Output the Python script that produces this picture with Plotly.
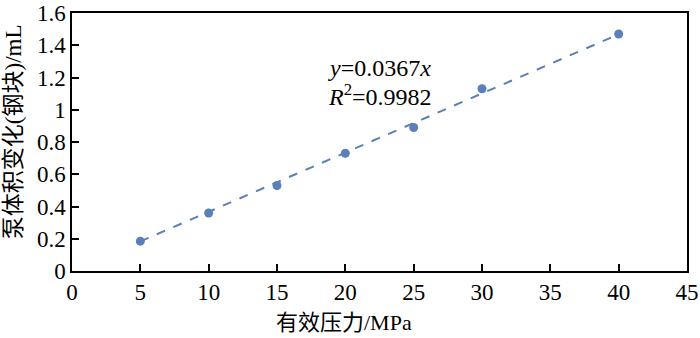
import plotly.graph_objects as go

pressure = [5, 10, 15, 20, 25, 30, 40]
volume = [0.185, 0.36, 0.53, 0.73, 0.89, 1.13, 1.47]
slope = 0.0367
fit_x = [5, 40]
fit_y = [slope * v for v in fit_x]

color = "#5b7fb8"
font_family = "Liberation Serif, Noto Sans CJK SC"

fig = go.Figure()
fig.add_trace(go.Scatter(x=fit_x, y=fit_y, mode="lines",
                         line=dict(color=color, width=2, dash="dash"), showlegend=False))
fig.add_trace(go.Scatter(x=pressure, y=volume, mode="markers",
                         marker=dict(color=color, size=9), showlegend=False))

fig.add_annotation(x=18.6, y=1.26, xref="x", yref="y", xanchor="left", yanchor="middle",
                   text="<i>y</i>=0.0367<i>x</i>", showarrow=False,
                   font=dict(size=24, color="black", family=font_family))
fig.add_annotation(x=18.6, y=1.09, xref="x", yref="y", xanchor="left", yanchor="middle",
                   text="<i>R</i><sup>2</sup>=0.9982", showarrow=False,
                   font=dict(size=24, color="black", family=font_family))

# axis titles as annotations for exact placement
fig.add_annotation(x=19.9, y=-0.198, xref="x", yref="paper", xanchor="center", yanchor="middle",
                   text="有效压力/MPa", showarrow=False,
                   font=dict(size=22, color="black", family=font_family))
fig.add_annotation(x=-0.094, y=0.539, xref="paper", yref="paper", xanchor="center", yanchor="middle",
                   text="泵体积变化(钢块)/mL", showarrow=False, textangle=-90,
                   font=dict(size=23, color="black", family=font_family))

axis_common = dict(showline=True, linecolor="black", linewidth=1.5, mirror=True,
                   ticks="inside", ticklen=7, tickwidth=1.5, tickcolor="black",
                   showgrid=False, zeroline=False, automargin=False,
                   tickfont=dict(size=23, color="black", family=font_family))

fig.update_xaxes(range=[0, 45], tickvals=list(range(0, 46, 5)), **axis_common)
fig.update_yaxes(range=[0, 1.6], tickvals=[0, 0.2, 0.4, 0.6, 0.8, 1, 1.2, 1.4, 1.6],
                 ticktext=["0", "0.2", "0.4", "0.6", "0.8", "1", "1.2", "1.4", "1.6"],
                 **axis_common)

fig.update_layout(width=700, height=338, margin=dict(l=72, r=13, t=13, b=67),
                  plot_bgcolor="white", paper_bgcolor="white", font=dict(family=font_family))
fig.write_html("out.html")
